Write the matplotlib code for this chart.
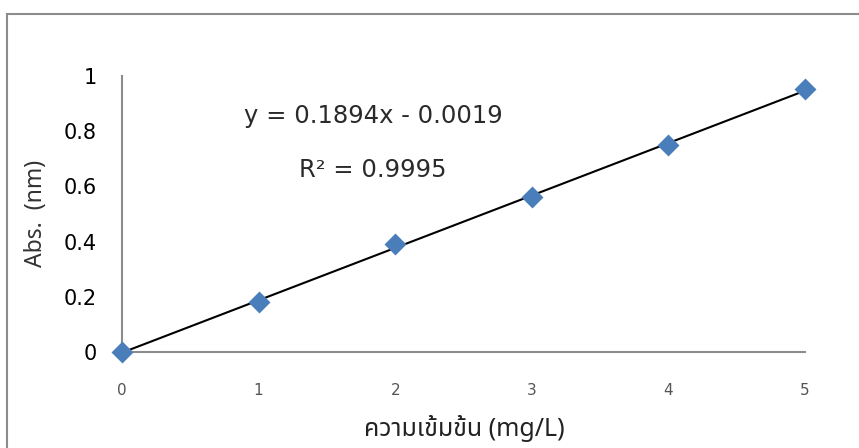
import numpy as np
import matplotlib
matplotlib.use("Agg")
import matplotlib.pyplot as plt
from matplotlib import font_manager
from matplotlib.patches import Rectangle

conc = [0, 1, 2, 3, 4, 5]
absorb = [0.0, 0.18, 0.39, 0.56, 0.75, 0.953]
eq_text = "y = 0.1894x - 0.0019"
r2_text = "R² = 0.9995"
x_label = "ความเข้มข้น (mg/L)"
y_label = "Abs.  (nm)"


# look for installed fonts that have thai glyphs, prefer proportional ones
def find_thai_font():
    from fontTools.ttLib import TTFont
    found = []
    for path in font_manager.findSystemFonts():
        try:
            f = TTFont(path, fontNumber=0, lazy=True)
            cmap = f.getBestCmap()
            if cmap and 0x0E04 in cmap and 0x0E49 in cmap:
                found.append(font_manager.FontProperties(fname=path).get_name())
        except Exception:
            continue
    prefs = ["Noto Sans Thai", "Noto Sans Thai UI", "Loma", "Garuda", "Waree",
             "Umpush", "Sawasdee", "Laksaman", "Kinnari", "Norasi"]
    for p in prefs:
        if p in found:
            return p
    for name in found:
        low = name.lower()
        if "mono" not in low and "typ" not in low:
            return name
    return found[0] if found else None

thai = find_thai_font()
label_fams = ["Noto Sans", thai, "DejaVu Sans"] if thai else ["Noto Sans", "DejaVu Sans"]
plt.rcParams['font.family'] = ["DejaVu Sans"]

W, H = 859, 448
fig = plt.figure(figsize=(W / 100, H / 100), dpi=100)
ax = fig.add_axes([122 / W, 1 - 352 / H, (805 - 122) / W, (352 - 76) / H])

# outer chart border
fig.patches.append(Rectangle((7 / W, -0.1), 1.2, 1 - 14 / H + 0.1,
                             transform=fig.transFigure, fill=False,
                             edgecolor='#8c8c8c', linewidth=1.5))

coef = np.polyfit(conc, absorb, 1)
xs = np.array([min(conc), max(conc)])
ax.plot(xs, np.polyval(coef, xs), color='black', linewidth=1.5, zorder=2)
ax.scatter(conc, absorb, marker='D', s=125, color='#4a7ebb', zorder=3,
           clip_on=False, linewidths=0)

ax.set_xlim(0, 5)
ax.set_ylim(0, 1)
ax.set_xticks(range(6))
ax.set_yticks([0, 0.2, 0.4, 0.6, 0.8, 1])
ax.set_yticklabels(['0', '0.2', '0.4', '0.6', '0.8', '1'])

for s in ['top', 'right']:
    ax.spines[s].set_visible(False)
for s in ['left', 'bottom']:
    ax.spines[s].set_color('#8c8c8c')
    ax.spines[s].set_linewidth(1.5)

ax.tick_params(axis='both', length=0)
ax.tick_params(axis='y', labelsize=15, pad=18, labelcolor='black')
ax.tick_params(axis='x', labelsize=11, pad=22, labelcolor='#555555')

fig.text(464 / W, 1 - 428 / H, x_label, fontsize=18, ha='center', va='center',
         color='#222222', family=label_fams)
fig.text(36 / W, 1 - 213 / H, y_label, fontsize=16.5, ha='center', va='center',
         rotation=90, color='#333333', family=label_fams)

fig.text(373 / W, 1 - 116 / H, eq_text, fontsize=17.5, ha='center', va='center',
         color='#2a2a2a')
fig.text(373 / W, 1 - 170 / H, r2_text, fontsize=17.5, ha='center', va='center',
         color='#2a2a2a')

fig.savefig("out.png", dpi=100)
